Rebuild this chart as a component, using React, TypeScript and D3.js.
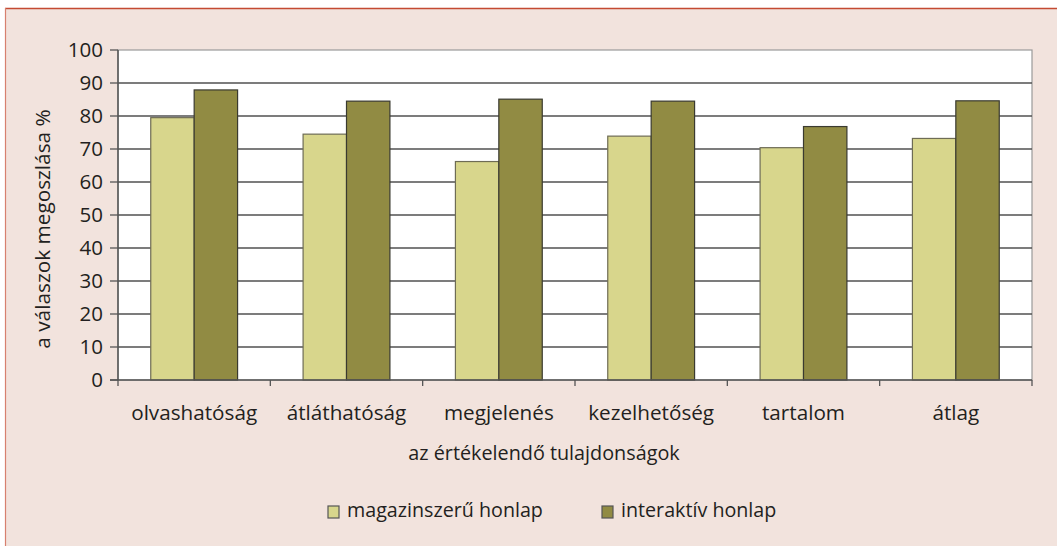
import React, { useEffect, useRef } from 'react';
import * as d3 from 'd3';

const categories = ['olvashatóság', 'átláthatóság', 'megjelenés', 'kezelhetőség', 'tartalom', 'átlag'];
const seriesNames = ['magazinszerű honlap', 'interaktív honlap'];
const magazinValues = [79.5, 74.5, 66.2, 73.9, 70.4, 73.2];
const interaktivValues = [87.9, 84.5, 85.1, 84.5, 76.8, 84.6];
const yTicks = [0, 10, 20, 30, 40, 50, 60, 70, 80, 90, 100];

const App = () => {
  const svgRef = useRef<SVGSVGElement | null>(null);

  useEffect(() => {
    if (!svgRef.current) return;
    d3.select(svgRef.current).selectAll('*').remove();

    const width = 1057;
    const height = 546;
    const plot = { left: 118, right: 1032, top: 50, bottom: 380 };
    const font = "'Open Sans', sans-serif";
    const textColor = '#231f20';
    const colors = ['#d8d68c', '#918b43'];
    const strokes = ['#6e6c55', '#3a3a30'];

    const svg = d3.select(svgRef.current)
      .attr('width', width)
      .attr('height', height);

    // panel background + red frame
    svg.append('rect')
      .attr('x', 0).attr('y', 0)
      .attr('width', width).attr('height', height)
      .attr('fill', '#ffffff');
    svg.append('rect')
      .attr('x', 5).attr('y', 8)
      .attr('width', width - 5).attr('height', height - 8)
      .attr('fill', '#f2e3dd');
    svg.append('line')
      .attr('x1', 5).attr('x2', width)
      .attr('y1', 8.5).attr('y2', 8.5)
      .attr('stroke', '#c44a32').attr('stroke-width', 1.5);
    svg.append('line')
      .attr('x1', 5.5).attr('x2', 5.5)
      .attr('y1', 8).attr('y2', height)
      .attr('stroke', '#d7806f').attr('stroke-width', 1.2);

    const x0 = d3.scaleBand<string>()
      .domain(categories)
      .range([plot.left, plot.right])
      .paddingInner(0.43)
      .paddingOuter(0.215);
    const x1 = d3.scaleBand<string>()
      .domain(seriesNames)
      .range([0, x0.bandwidth()]);
    const y = d3.scaleLinear()
      .domain([0, 100])
      .range([plot.bottom, plot.top]);

    // plot area
    svg.append('rect')
      .attr('x', plot.left).attr('y', plot.top)
      .attr('width', plot.right - plot.left)
      .attr('height', plot.bottom - plot.top)
      .attr('fill', '#ffffff')
      .attr('stroke', '#9a9a9a')
      .attr('stroke-width', 1.2);

    // gridlines
    yTicks.filter(t => t > 0 && t < 100).forEach(t => {
      svg.append('line')
        .attr('x1', plot.left).attr('x2', plot.right)
        .attr('y1', y(t)).attr('y2', y(t))
        .attr('stroke', '#505050')
        .attr('stroke-width', 1.3);
    });

    // bars
    const series = [magazinValues, interaktivValues];
    categories.forEach((cat, i) => {
      series.forEach((vals, s) => {
        svg.append('rect')
          .attr('x', (x0(cat) ?? 0) + (x1(seriesNames[s]) ?? 0))
          .attr('y', y(vals[i]))
          .attr('width', x1.bandwidth())
          .attr('height', y(0) - y(vals[i]))
          .attr('fill', colors[s])
          .attr('stroke', strokes[s])
          .attr('stroke-width', 1.2);
      });
    });

    // axes lines
    svg.append('line')
      .attr('x1', plot.left).attr('x2', plot.left)
      .attr('y1', plot.top).attr('y2', plot.bottom)
      .attr('stroke', '#555').attr('stroke-width', 1.5);
    svg.append('line')
      .attr('x1', plot.left - 8).attr('x2', plot.right)
      .attr('y1', plot.bottom).attr('y2', plot.bottom)
      .attr('stroke', '#555').attr('stroke-width', 1.5);

    // y ticks + labels
    yTicks.forEach(t => {
      svg.append('line')
        .attr('x1', plot.left - 8).attr('x2', plot.left)
        .attr('y1', y(t)).attr('y2', y(t))
        .attr('stroke', '#555').attr('stroke-width', 1.3);
      svg.append('text')
        .attr('x', 103)
        .attr('y', y(t))
        .attr('dy', '0.35em')
        .attr('text-anchor', 'end')
        .attr('font-family', font)
        .attr('font-size', '20.5px')
        .attr('fill', textColor)
        .text(t);
    });

    // x ticks at category boundaries
    categories.forEach((cat, i) => {
      const xb = plot.left + i * x0.step();
      svg.append('line')
        .attr('x1', xb).attr('x2', xb)
        .attr('y1', plot.bottom).attr('y2', plot.bottom + 6)
        .attr('stroke', '#555').attr('stroke-width', 1.3);
    });
    svg.append('line')
      .attr('x1', plot.right).attr('x2', plot.right)
      .attr('y1', plot.bottom).attr('y2', plot.bottom + 6)
      .attr('stroke', '#555').attr('stroke-width', 1.3);

    // x labels
    categories.forEach(cat => {
      svg.append('text')
        .attr('x', (x0(cat) ?? 0) + x0.bandwidth() / 2)
        .attr('y', 420)
        .attr('text-anchor', 'middle')
        .attr('font-family', font)
        .attr('font-size', '20.7px')
        .attr('fill', textColor)
        .text(cat);
    });

    // axis titles
    svg.append('text')
      .attr('x', 544)
      .attr('y', 460)
      .attr('text-anchor', 'middle')
      .attr('font-family', font)
      .attr('font-size', '19.8px')
      .attr('fill', textColor)
      .text('az értékelendő tulajdonságok');

    svg.append('text')
      .attr('transform', 'translate(50,229) rotate(-90)')
      .attr('text-anchor', 'middle')
      .attr('font-family', font)
      .attr('font-size', '20.8px')
      .attr('fill', textColor)
      .text('a válaszok megoszlása %');

    // legend
    const legendX = [328, 602];
    seriesNames.forEach((name, s) => {
      svg.append('rect')
        .attr('x', legendX[s]).attr('y', 506)
        .attr('width', 11).attr('height', 12)
        .attr('fill', colors[s])
        .attr('stroke', '#555')
        .attr('stroke-width', 1.2);
      svg.append('text')
        .attr('x', legendX[s] + 19)
        .attr('y', 517)
        .attr('font-family', font)
        .attr('font-size', '19.7px')
        .attr('fill', textColor)
        .text(name);
    });
  }, []);

  return (
    <div style={{ position: 'absolute', left: 0, top: 0 }}>
      <svg ref={svgRef}></svg>
    </div>
  );
};

export default App;
